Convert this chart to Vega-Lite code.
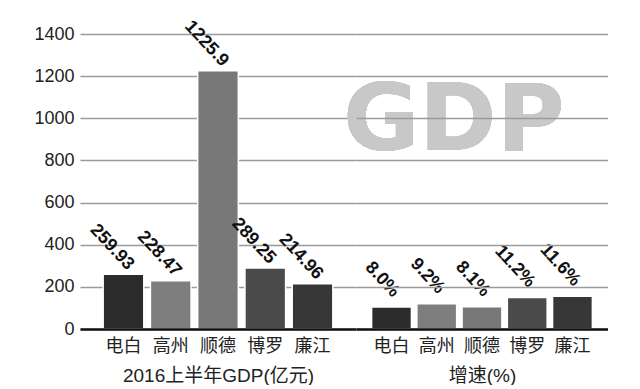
{
  "$schema": "https://vega.github.io/schema/vega-lite/v6.json",
  "autosize": {"type": "pad"},
  "padding": {"left": 33, "top": 17, "right": 0, "bottom": 0},
  "background": "white",
  "spacing": 0,
  "bounds": "flush",
  "config": {
    "view": {"stroke": null},
    "font": "Liberation Sans, Noto Sans CJK SC",
    "axis": {
      "labelFont": "Liberation Sans, Noto Sans CJK SC",
      "titleFont": "Liberation Sans, Noto Sans CJK SC",
      "labelColor": "#222222",
      "titleColor": "#222222",
      "gridColor": "#9a9a9a",
      "gridWidth": 1.5,
      "gridOpacity": 1,
      "ticks": false
    }
  },
  "datasets": {
    "gdp": [
      {"name": "电白", "value": 259.93, "label": "259.93"},
      {"name": "高州", "value": 228.47, "label": "228.47"},
      {"name": "顺德", "value": 1225.9, "label": "1225.9"},
      {"name": "博罗", "value": 289.25, "label": "289.25"},
      {"name": "廉江", "value": 214.96, "label": "214.96"}
    ],
    "growth": [
      {"name": "电白", "value": 104, "label": "8.0%"},
      {"name": "高州", "value": 120, "label": "9.2%"},
      {"name": "顺德", "value": 106, "label": "8.1%"},
      {"name": "博罗", "value": 150, "label": "11.2%"},
      {"name": "廉江", "value": 156, "label": "11.6%"}
    ]
  },
  "hconcat": [
    {
      "width": 276,
      "height": 295,
      "data": {"name": "gdp"},
      "encoding": {
        "x": {
          "field": "name", "type": "nominal", "sort": null,
          "scale": {"domain": ["电白", "高州", "顺德", "博罗", "廉江"], "paddingInner": 0.14, "paddingOuter": 0.49},
          "axis": {
            "title": "2016上半年GDP(亿元)", "labelAngle": 0, "labelFontSize": 18,
            "labelPadding": 8, "titleFontSize": 19, "titleFontWeight": "normal",
            "titlePadding": 11, "domainColor": "#111111", "domainWidth": 2.5, "zindex": 1
          }
        },
        "y": {
          "field": "value", "type": "quantitative",
          "scale": {"domain": [0, 1400], "nice": false},
          "axis": {
            "title": null, "values": [0, 200, 400, 600, 800, 1000, 1200, 1400], "format": "d",
            "labelFontSize": 18, "labelPadding": 6, "domain": false, "grid": true
          }
        }
      },
      "layer": [
        {
          "mark": {"type": "bar", "stroke": "white", "strokeWidth": 1.5},
          "encoding": {
            "color": {
              "field": "name", "type": "nominal", "legend": null,
              "scale": {"domain": ["电白", "高州", "顺德", "博罗", "廉江"],
                        "range": ["#2b2b2b", "#7e7e7e", "#787878", "#4a4a4a", "#373737"]}
            }
          }
        },
        {
          "mark": {"type": "text", "angle": 47, "align": "right", "baseline": "middle",
                   "fontSize": 18, "fontWeight": "bold", "color": "#111111", "dy": -10},
          "encoding": {"text": {"field": "label"}}
        }
      ]
    },
    {
      "width": 252,
      "height": 295,
      "data": {"name": "growth"},
      "encoding": {
        "x": {
          "field": "name", "type": "nominal", "sort": null,
          "scale": {"domain": ["电白", "高州", "顺德", "博罗", "廉江"], "paddingInner": 0.12, "paddingOuter": 0.345},
          "axis": {
            "title": "增速(%)", "labelAngle": 0, "labelFontSize": 18,
            "labelPadding": 8, "titleFontSize": 19, "titleFontWeight": "normal",
            "titlePadding": 11, "domainColor": "#111111", "domainWidth": 2.5, "zindex": 1
          }
        },
        "y": {
          "field": "value", "type": "quantitative",
          "scale": {"domain": [0, 1400], "nice": false},
          "axis": {
            "title": null, "values": [0, 200, 400, 600, 800, 1000, 1200, 1400],
            "labels": false, "domain": false, "grid": true, "zindex": 1
          }
        }
      },
      "layer": [
        {
          "mark": {"type": "text", "text": "GDP", "font": "DejaVu Sans", "fontSize": 93, "fontWeight": "bold",
                   "color": "#c8c8c8", "align": "center", "baseline": "middle", "dx": 17, "dy": 4},
          "encoding": {
            "x": {"datum": "高州", "type": "nominal"},
            "y": {"datum": 1000, "type": "quantitative"}
          }
        },
        {
          "mark": {"type": "bar", "stroke": "white", "strokeWidth": 1.5},
          "encoding": {
            "color": {
              "field": "name", "type": "nominal", "legend": null,
              "scale": {"domain": ["电白", "高州", "顺德", "博罗", "廉江"],
                        "range": ["#2e2e2e", "#767676", "#6e6e6e", "#474747", "#363636"]}
            }
          }
        },
        {
          "mark": {"type": "text", "angle": 47, "align": "right", "baseline": "middle",
                   "fontSize": 18, "fontWeight": "bold", "color": "#111111", "dx": -6, "dy": -12},
          "encoding": {"text": {"field": "label"}}
        }
      ]
    }
  ]
}
